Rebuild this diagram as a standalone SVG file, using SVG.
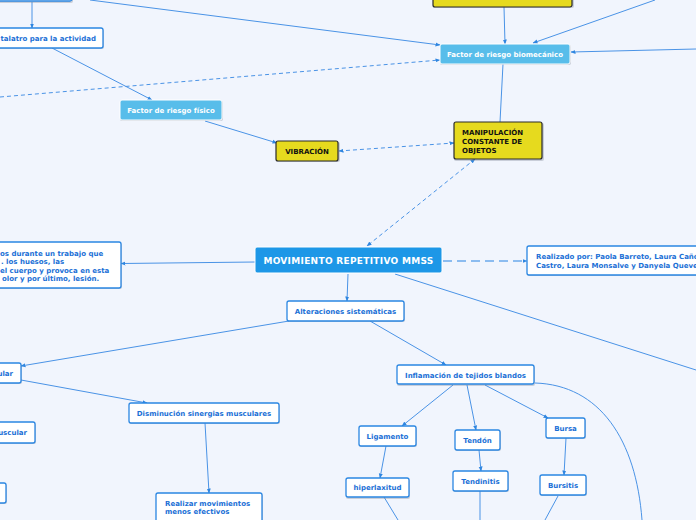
<svg xmlns="http://www.w3.org/2000/svg" width="696" height="520" viewBox="0 0 696 520">
<defs>
<marker id="a" viewBox="0 0 10 10" refX="9" refY="5" markerWidth="5" markerHeight="5" orient="auto-start-reverse" markerUnits="userSpaceOnUse"><path d="M0,1 L10,5 L0,9 z" fill="#2f86e0"/></marker>
</defs>
<style>
.bg{fill:#f1f5fd}
.sh{fill:#7d8694;opacity:.35}
.w{fill:#ffffff;stroke:#2a86e2;stroke-width:1.3}
.y{fill:#e6da1e;stroke:#2a2a2a;stroke-width:1.2}
.lb{fill:#58bdea;stroke:#ffffff;stroke-width:1}
.mb{fill:#1d97e7;stroke:#ffffff;stroke-width:1}
.c{fill:none;stroke:#4a93e6;stroke-width:1}
.d{fill:none;stroke:#4a93e6;stroke-width:1;stroke-dasharray:4 3}
.dd{fill:none;stroke:#8cbcf0;stroke-width:2;stroke-dasharray:9 5}
text{font-family:"DejaVu Sans","Liberation Sans",sans-serif;font-weight:bold;font-size:7px}
.t{fill:#1b70d6}
.tw{fill:#ffffff}
.tk{fill:#111111}
.m{text-anchor:middle}
</style>
<rect class="bg" x="0" y="0" width="696" height="520"/>
<g id="connectors">
<path class="c" d="M32,2 L32,28" marker-end="url(#a)"/>
<path class="c" d="M90,0 L440,45" marker-end="url(#a)"/>
<path class="d" d="M0,97 L440,60" marker-end="url(#a)"/>
<path class="c" d="M504,7 L505,44" marker-end="url(#a)"/>
<path class="c" d="M655,0 L533,43" marker-end="url(#a)"/>
<path class="c" d="M696,49 L571,52" marker-end="url(#a)"/>
<path class="c" d="M503,64 L500,122"/>
<path class="c" d="M52,48 L152,100" marker-end="url(#a)"/>
<path class="c" d="M205,121 L277,143" marker-end="url(#a)"/>
<path class="d" d="M339,151 L454,143" marker-start="url(#a)" marker-end="url(#a)"/>
<path class="d" d="M475,159 L367,246" marker-start="url(#a)" marker-end="url(#a)"/>
<path class="c" d="M255,262 L121,263.5" marker-end="url(#a)"/>
<path class="dd" d="M443,261 L527,261" marker-end="url(#a)"/>
<path class="c" d="M395,274 L696,370"/>
<path class="c" d="M348,274 L347,301" marker-end="url(#a)"/>
<path class="c" d="M289,321 L21,366" marker-end="url(#a)"/>
<path class="c" d="M21,380 L147,403" marker-end="url(#a)"/>
<path class="c" d="M205,423 L209,493" marker-end="url(#a)"/>
<path class="c" d="M370,321 L446,365" marker-end="url(#a)"/>
<path class="c" d="M453,385 L402,426" marker-end="url(#a)"/>
<path class="c" d="M467,385 L476,430" marker-end="url(#a)"/>
<path class="c" d="M485,385 L548,418" marker-end="url(#a)"/>
<path class="c" d="M386,446 L380,478" marker-end="url(#a)"/>
<path class="c" d="M479,450 L481,471" marker-end="url(#a)"/>
<path class="c" d="M566,438 L564,475" marker-end="url(#a)"/>
<path class="c" d="M384,497 L398,520"/>
<path class="c" d="M480,491 L480,520"/>
<path class="c" d="M558,496 L545,520"/>
<path class="c" d="M535,383 C600,385 636,440 642,520"/>
</g>
<g id="n-top-left">
<rect class="sh" x="-10" y="-20" width="83" height="23" rx="2"/>
<rect class="w" x="-10" y="-20" width="82" height="21" rx="2"/>
</g>
<g id="n-taladro">
<rect class="sh" x="-10" y="29" width="114" height="20" rx="2"/>
<rect class="w" x="-10" y="28" width="113" height="20" rx="2"/>
<text class="t" x="96" y="41" text-anchor="end">talatro para la actividad</text>
</g>
<g id="n-yellow-top">
<rect class="sh" x="433" y="-20" width="141" height="28" rx="2"/>
<rect class="y" x="433" y="-20" width="139" height="27" rx="2"/>
</g>
<g id="n-biomecanico">
<rect class="sh" x="440" y="45" width="131" height="20" rx="2"/>
<rect class="lb" x="440" y="44" width="130" height="20" rx="2"/>
<text class="tw m" x="505" y="57">Factor de riesgo biomecánico</text>
</g>
<g id="n-fisico">
<rect class="sh" x="120" y="101" width="103" height="20" rx="2"/>
<rect class="lb" x="120" y="100" width="102" height="20" rx="2"/>
<text class="tw m" x="171" y="113">Factor de riesgo físico</text>
</g>
<g id="n-vibracion">
<rect class="sh" x="276" y="142" width="64" height="20" rx="2"/>
<rect class="y" x="276" y="141" width="62" height="20" rx="2"/>
<text class="tk m" x="307" y="154">VIBRACIÓN</text>
</g>
<g id="n-manipulacion">
<rect class="sh" x="454" y="123" width="90" height="38" rx="2"/>
<rect class="y" x="454" y="122" width="88" height="37" rx="2"/>
<text class="tk" x="462" y="135">MANIPULACIÓN</text>
<text class="tk" x="462" y="144">CONSTANTE DE</text>
<text class="tk" x="462" y="153">OBJETOS</text>
</g>
<g id="n-movimiento">
<rect class="mb" x="255" y="247" width="187" height="26" rx="2"/>
<text class="tw m" x="348.5" y="264" style="font-size:9px;letter-spacing:0.3px">MOVIMIENTO REPETITIVO MMSS</text>
</g>
<g id="n-definicion">
<rect class="sh" x="-10" y="243" width="132" height="46" rx="2"/>
<rect class="w" x="-10" y="242" width="131" height="46" rx="2"/>
<text class="t" x="0" y="256">os durante un trabajo que</text>
<text class="t" x="1" y="264">. los huesos, las</text>
<text class="t" x="0" y="273">el cuerpo y provoca en esta</text>
<text class="t" x="2" y="281">olor y por último, lesión.</text>
</g>
<g id="n-realizado">
<rect class="sh" x="527" y="247" width="180" height="29" rx="2"/>
<rect class="w" x="527" y="246" width="180" height="29" rx="2"/>
<text class="t" x="536" y="259">Realizado por: Paola Barreto, Laura Cañó</text>
<text class="t" x="536" y="268">Castro, Laura Monsalve y Danyela Queve</text>
</g>
<g id="n-alteraciones">
<rect class="sh" x="287" y="302" width="118" height="20" rx="2"/>
<rect class="w" x="287" y="301" width="117" height="20" rx="2"/>
<text class="t m" x="345.5" y="314">Alteraciones sistemáticas</text>
</g>
<g id="n-ular">
<rect class="sh" x="-10" y="364" width="32" height="20" rx="2"/>
<rect class="w" x="-10" y="363" width="31" height="20" rx="2"/>
<text class="t" x="13" y="376" text-anchor="end">ular</text>
</g>
<g id="n-uscular">
<rect class="sh" x="-10" y="423" width="46" height="21" rx="2"/>
<rect class="w" x="-10" y="422" width="45" height="21" rx="2"/>
<text class="t" x="27" y="435" text-anchor="end">uscular</text>
</g>
<g id="n-left-bottom">
<rect class="sh" x="-10" y="484" width="17" height="20" rx="2"/>
<rect class="w" x="-10" y="483" width="16" height="20" rx="2"/>
</g>
<g id="n-disminucion">
<rect class="sh" x="129" y="404" width="151" height="20" rx="2"/>
<rect class="w" x="129" y="403" width="150" height="20" rx="2"/>
<text class="t m" x="204" y="416">Disminución sinergias musculares</text>
</g>
<g id="n-realizar">
<rect class="sh" x="156" y="494" width="107" height="40" rx="2"/>
<rect class="w" x="156" y="493" width="106" height="40" rx="2"/>
<text class="t" x="165" y="506">Realizar movimientos</text>
<text class="t" x="165" y="514">menos efectivos</text>
</g>
<g id="n-inflamacion">
<rect class="sh" x="397" y="366" width="138" height="20" rx="2"/>
<rect class="w" x="397" y="365" width="137" height="19" rx="2"/>
<text class="t m" x="465.5" y="378">Inflamación de tejidos blandos</text>
</g>
<g id="n-ligamento">
<rect class="sh" x="359" y="427" width="58" height="20" rx="2"/>
<rect class="w" x="359" y="426" width="57" height="20" rx="2"/>
<text class="t m" x="387.5" y="439">Ligamento</text>
</g>
<g id="n-tendon">
<rect class="sh" x="455" y="431" width="46" height="20" rx="2"/>
<rect class="w" x="455" y="430" width="45" height="20" rx="2"/>
<text class="t m" x="477.5" y="443">Tendón</text>
</g>
<g id="n-bursa">
<rect class="sh" x="546" y="419" width="40" height="20" rx="2"/>
<rect class="w" x="546" y="418" width="39" height="20" rx="2"/>
<text class="t m" x="565.5" y="431">Bursa</text>
</g>
<g id="n-hiperlaxitud">
<rect class="sh" x="346" y="479" width="64" height="20" rx="2"/>
<rect class="w" x="346" y="478" width="63" height="19" rx="2"/>
<text class="t m" x="377.5" y="490">hiperlaxitud</text>
</g>
<g id="n-tendinitis">
<rect class="sh" x="453" y="472" width="56" height="20" rx="2"/>
<rect class="w" x="453" y="471" width="55" height="20" rx="2"/>
<text class="t m" x="480.5" y="484">Tendinitis</text>
</g>
<g id="n-bursitis">
<rect class="sh" x="540" y="476" width="47" height="20" rx="2"/>
<rect class="w" x="540" y="475" width="46" height="20" rx="2"/>
<text class="t m" x="563" y="488">Bursitis</text>
</g>
</svg>
